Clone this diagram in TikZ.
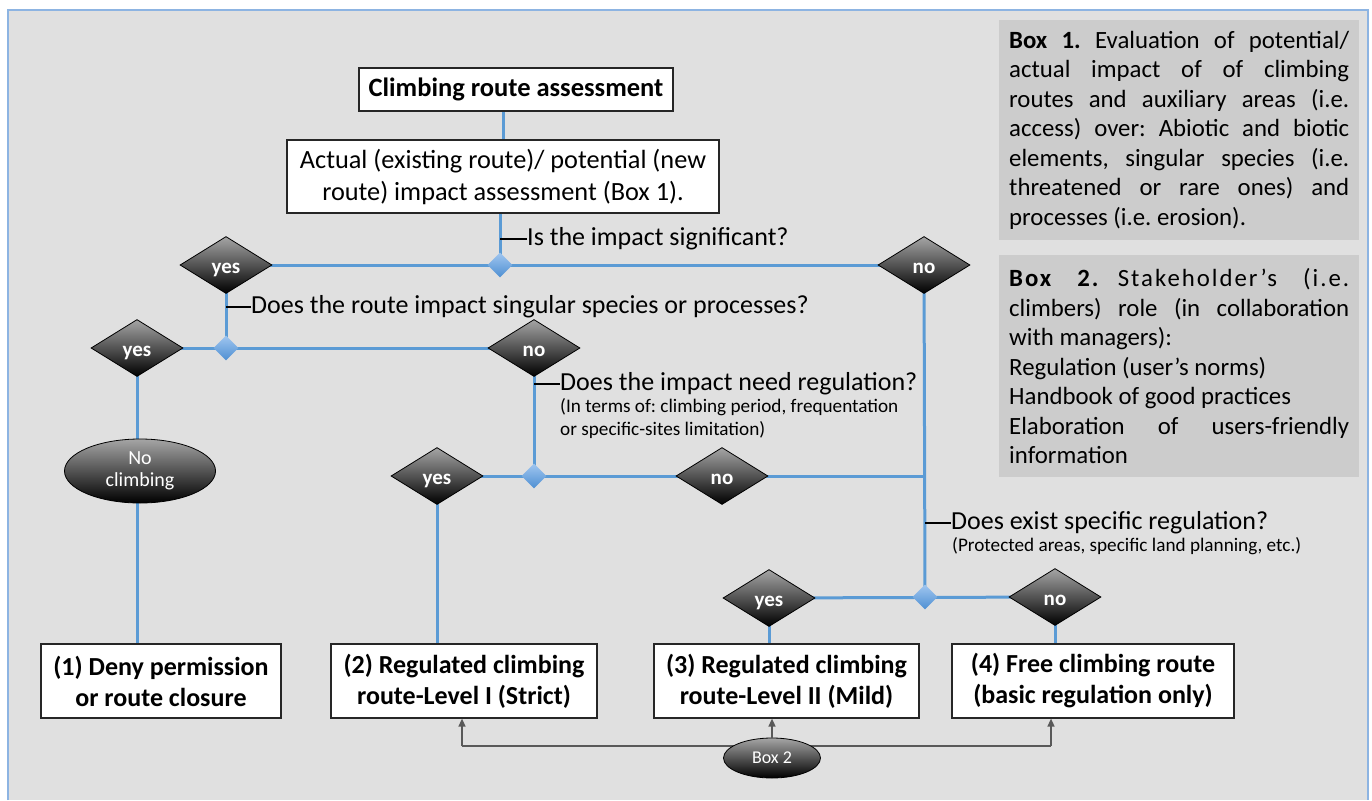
\documentclass[tikz,border=0pt]{standalone}
\usepackage{fontspec}
\setmainfont{Carlito}
\usetikzlibrary{shapes.geometric,arrows.meta,backgrounds}
\definecolor{bgc}{RGB}{224,224,224}
\definecolor{bdr}{RGB}{141,180,226}
\definecolor{lnb}{RGB}{91,155,213}
\definecolor{boxg}{RGB}{204,204,204}
\definecolor{jtop}{RGB}{160,198,240}
\definecolor{jbot}{RGB}{78,143,210}
\definecolor{dtop}{RGB}{165,165,165}
\definecolor{arr}{RGB}{89,89,89}
\frenchspacing
\begin{document}
\begin{tikzpicture}[x=1pt,y=-1pt,
 link/.style={draw=lnb,line width=3pt},
 dec/.style={diamond,minimum width=92pt,minimum height=57pt,inner sep=0pt,top color=dtop,bottom color=black,draw=black,line width=0.8pt,text=white,text height=17pt,text depth=0pt,font=\fontsize{21}{23}\selectfont\bfseries},
 junc/.style={diamond,minimum width=25pt,minimum height=25pt,inner sep=0pt,top color=jtop,bottom color=jbot,draw=none},
 outc/.style={rectangle,draw=black!85,line width=1.2pt,fill=white,minimum height=74pt,align=center,font=\fontsize{26}{31}\selectfont\bfseries,inner sep=0pt},
 tickl/.style={draw=black,line width=2pt},
 qlab/.style={anchor=west,inner sep=0pt,font=\fontsize{26}{30}\selectfont},
 qsmall/.style={anchor=north west,inner sep=0pt,align=left,font=\fontsize{19.2}{23}\selectfont},
 term/.style={ellipse,top color=dtop,bottom color=black,draw=black,line width=0.8pt,text=white,inner sep=0pt,align=center},
 infobox/.style={rectangle,fill=boxg,anchor=north west,inner xsep=10pt,inner ysep=0pt,text width=340pt,minimum width=360pt,align=justify,font=\fontsize{24.8}{29.5}\selectfont},
 arrline/.style={draw=arr,line width=1.5pt}
]
\useasboundingbox (0,0) rectangle (1372,800);

% top boxes
\node[draw=black!85,line width=1.2pt,fill=white,minimum width=314pt,minimum height=43pt,inner sep=0pt,font=\fontsize{26.5}{30}\selectfont\bfseries] (cra) at (516,89.5) {Climbing route assessment};
\node[draw=black!85,line width=1.2pt,fill=white,minimum width=432pt,minimum height=73pt,inner sep=0pt,align=center,font=\fontsize{26.3}{32}\selectfont] (act) at (503,176.5) {Actual (existing route)/ potential (new\\route) impact assessment (Box 1).};

% decisions
\node[junc] (j1) at (500,265) {};
\node[dec] (y1) at (226,265) {yes};
\node[dec] (n1) at (924,265) {no};
\node[junc] (j2) at (226,348) {};
\node[dec] (y2) at (137,348) {yes};
\node[dec] (n2) at (534,348) {no};
\node[term,minimum width=151pt,minimum height=64pt,font=\fontsize{20}{22}\selectfont] (nc) at (140,471) {No\\climbing};
\node[junc] (j3) at (534,476) {};
\node[dec] (y3) at (437,476) {yes};
\node[dec] (n3) at (722,476) {no};
\coordinate (m3) at (925,476);
\node[junc] (j4) at (925,597) {};
\node[dec] (y4) at (769,598) {yes};
\node[dec] (n4) at (1055,597) {no};

% outcomes
\node[outc,minimum width=240pt] (o1) at (161,681) {(1) Deny permission\\or route closure};
\node[outc,minimum width=266pt] (o2) at (464,681) {(2) Regulated climbing\\route-Level I (Strict)};
\node[outc,minimum width=265pt] (o3) at (786.5,681) {(3) Regulated climbing\\route-Level II (Mild)};
\node[outc,minimum width=282pt] (o4) at (1093,681) {(4) Free climbing route\\(basic regulation only)};
\node[term,minimum width=97pt,minimum height=40pt,font=\fontsize{18}{20}\selectfont] (b2e) at (772,758) {Box 2};

% questions
\node[qlab] (qa) at (527,239) {Is the impact significant?};
\node[qlab] (qb) at (251,307) {Does the route impact singular species or processes?};
\node[qlab] (qc) at (560,384) {Does the impact need regulation?};
\node[qsmall] (qcs) at (560,398) {(In terms of: climbing period, frequentation\\or specific-sites limitation)};
\node[qlab] (qd) at (951,523) {Does exist specific regulation?};
\node[qsmall] (qds) at (952,537) {(Protected areas, specific land planning, etc.)};

% info boxes
\node[infobox,minimum height=220pt] (bx1) at (999,20) {{\bfseries Box 1.} Evaluation of potential/\linebreak actual impact of of climbing\linebreak routes and auxiliary areas (i.e.\linebreak access) over: Abiotic and biotic\linebreak elements, singular species (i.e.\linebreak threatened or rare ones) and\linebreak processes (i.e. erosion).};
\node[infobox,minimum height=222pt] (bx2) at (999,255) {{\bfseries\addfontfeature{LetterSpace=8}Box 2.} {\addfontfeature{LetterSpace=8}Stakeholder’s (i.e.}\linebreak climbers) role (in collaboration\linebreak with managers):\newline Regulation (user’s norms)\newline Handbook of good practices\newline Elaboration of users-friendly\linebreak information};

\begin{pgfonlayer}{background}
\fill[bgc] (8,10) rectangle (1368,800);
\draw[bdr,line width=1.2pt] (8,800) -- (8,10) -- (1368,10) -- (1368,800);
\draw[link] (act.north) -- (act.north |- cra.south);
\draw[link] (j1.center) -- (j1.center |- act.south);
\draw[link] (y1.center) -- (n1.center);
\draw[link] (y1.center) -- (j2.center);
\draw[link] (y2.center) -- (n2.center);
\draw[link] (y2.center) -- (y2.center |- o1.north);
\draw[link] (n2.center) -- (j3.center);
\draw[link] (y3.center) -- (m3);
\draw[link] (y3.center) -- (y3.center |- o2.north);
\draw[link] (n1.center) -- (j4.center);
\draw[link] (y4.center) -- (n4.center);
\draw[link] (y4.center) -- (y4.center |- o3.north);
\draw[link] (n4.center) -- (n4.center |- o4.north);
\draw[tickl] (qa.west) -- (qa.west -| j1.center);
\draw[tickl] (qb.west) -- (qb.west -| j2.center);
\draw[tickl] (qc.west) -- (qc.west -| j3.center);
\draw[tickl] (qd.west) -- (qd.west -| j4.center);
\coordinate (bl) at (462,746);
\coordinate (br) at (1051,746);
\draw[arrline] (bl) -- (br);
\end{pgfonlayer}
\draw[arrline,-{Triangle[length=8pt,width=7pt]}] (bl) -- (bl |- o2.south);
\draw[arrline,-{Triangle[length=8pt,width=7pt]}] (br) -- (br |- o4.south);
\draw[arrline,-{Triangle[length=8pt,width=7pt]}] (b2e.north) -- (b2e.north |- o3.south);
\end{tikzpicture}
\end{document}
